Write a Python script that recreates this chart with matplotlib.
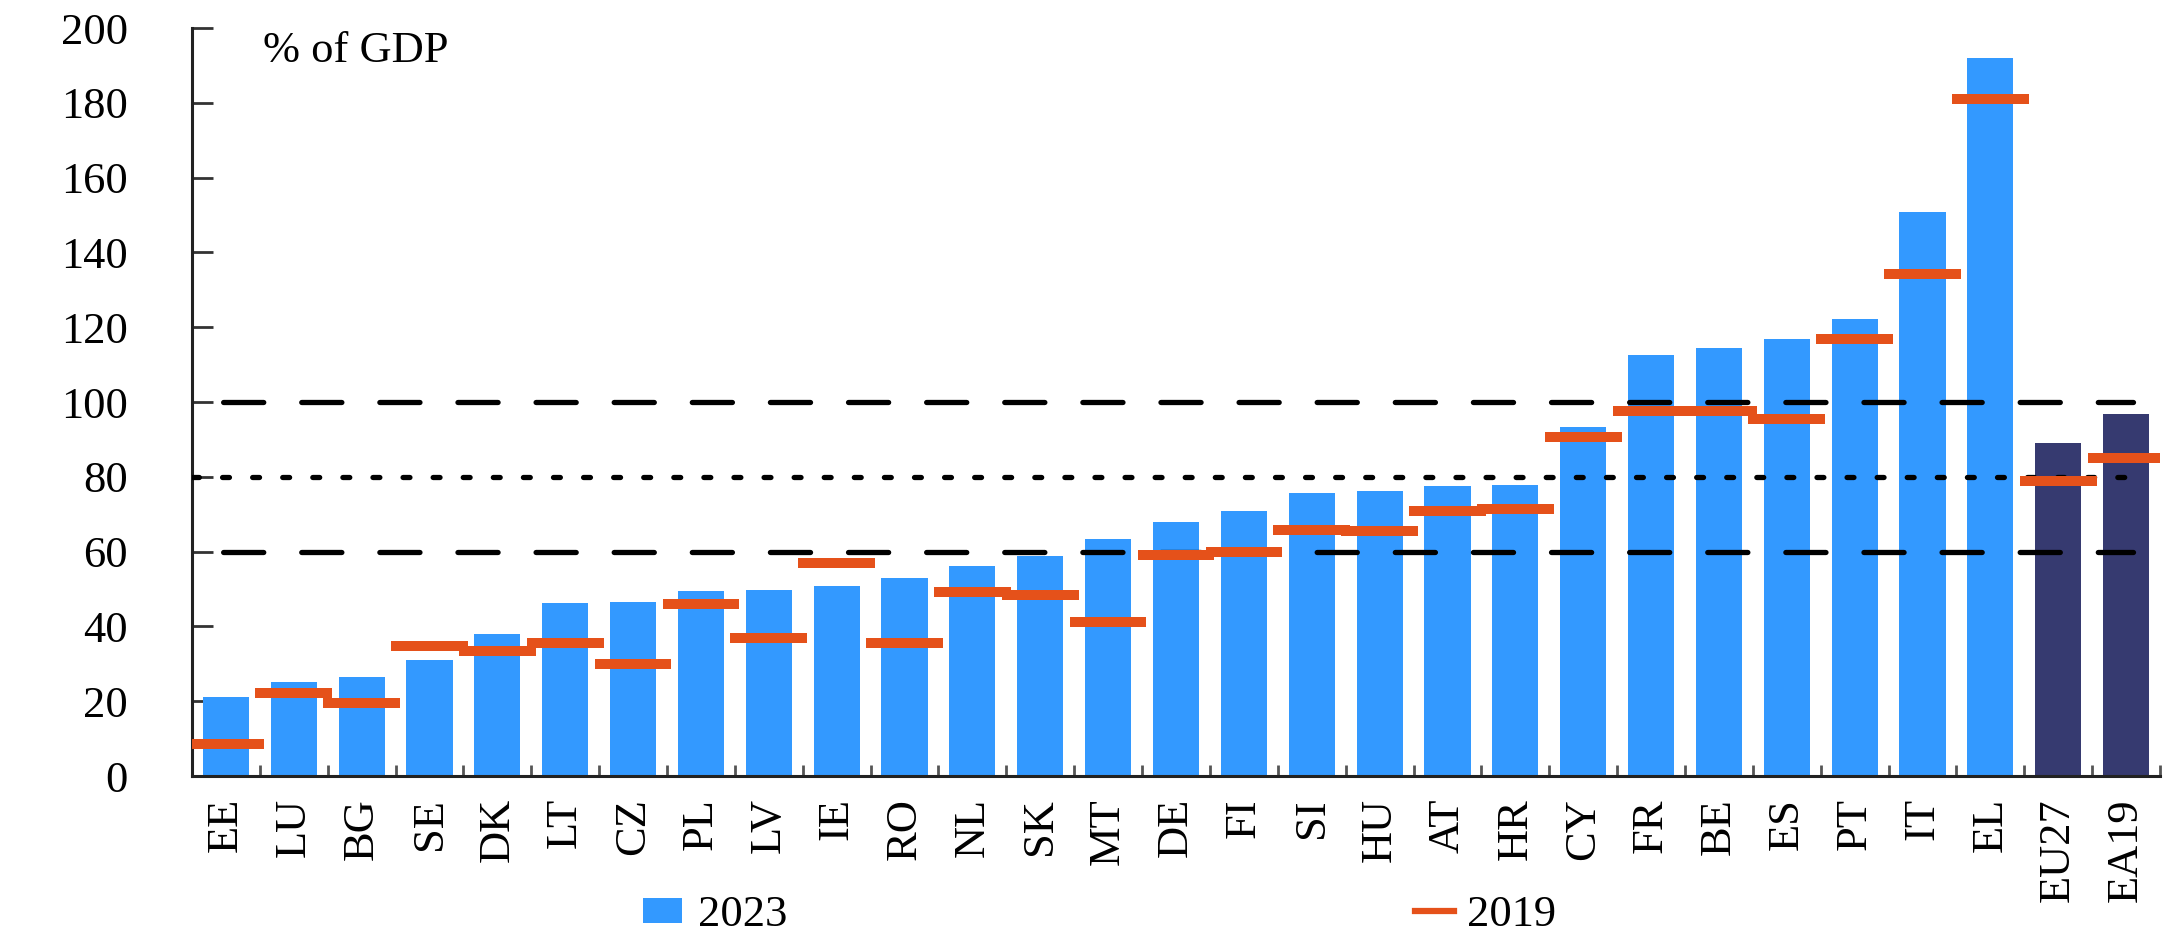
import matplotlib
matplotlib.use("Agg")
import matplotlib.pyplot as plt
import numpy as np
from matplotlib.patches import Patch
from matplotlib.lines import Line2D

# ---------------- data ----------------
countries = ["EE", "LU", "BG", "SE", "DK", "LT", "CZ", "PL", "LV", "IE", "RO", "NL",
             "SK", "MT", "DE", "FI", "SI", "HU", "AT", "HR", "CY", "FR", "BE", "ES",
             "PT", "IT", "EL", "EU27", "EA19"]
debt_2023 = [21.1, 25.1, 26.5, 30.9, 37.9, 46.3, 46.6, 49.5, 49.8, 50.9, 53.0, 56.1,
             58.9, 63.4, 68.0, 70.8, 75.7, 76.2, 77.5, 77.7, 93.2, 112.6, 114.5, 116.8,
             122.2, 150.7, 191.9, 89.1, 96.7]
debt_2019 = [8.5, 22.3, 19.6, 34.8, 33.4, 35.5, 30.0, 45.9, 36.9, 57.0, 35.5, 49.1,
             48.4, 41.1, 59.1, 59.8, 65.9, 65.4, 70.8, 71.5, 90.7, 97.5, 97.5, 95.4,
             116.8, 134.1, 181.0, 79.0, 84.9]
aggregates = ["EU27", "EA19"]
dashed_levels = [60, 100]
dotted_levels = [80]
y_ticks = [0, 20, 40, 60, 80, 100, 120, 140, 160, 180, 200]
series_labels = ["2023", "2019"]
unit_label = "% of GDP"

# ---------------- style ----------------
BLUE = "#3399FF"
NAVY = "#363A70"
ORANGE = "#E5511A"
FS = 32

plt.rcParams["font.family"] = ["Liberation Serif", "DejaVu Serif"]
plt.rcParams["font.size"] = FS

fig = plt.figure(figsize=(21.69, 9.38), dpi=100)
ax = fig.add_axes([192 / 2169, (938 - 776) / 938, (2160 - 192) / 2169, (776 - 28) / 938])

x = np.arange(len(countries))
colors = [NAVY if c in aggregates else BLUE for c in countries]
ax.bar(x, debt_2023, width=0.68, color=colors, zorder=2)

line_end = len(countries) - 0.9
for lvl in dashed_levels:
    ax.plot([-0.5, line_end], [lvl, lvl], color="black", lw=3.8,
            linestyle=(8.9, (7.6, 7.2)), dash_capstyle="round", zorder=3)
for lvl in dotted_levels:
    ax.plot([-0.5, line_end], [lvl, lvl], color="black", lw=3.8,
            linestyle=(0, (1.3, 4.4)), dash_capstyle="round", zorder=3)

ax.hlines(debt_2019, x - 0.565, x + 0.565, colors=ORANGE, linewidth=7.2, zorder=4)

ax.set_xlim(-0.5, len(countries) - 0.5)
ax.set_ylim(0, 200)
ax.set_yticks(y_ticks)
ax.set_xticks(x)
ax.set_xticklabels(countries, rotation=90)
ax.set_xticks(np.arange(-0.5, len(countries), 1), minor=True)
ax.tick_params(axis="x", which="major", length=0, pad=16)
ax.tick_params(axis="x", which="minor", direction="in", length=8, width=2, color="#555555")
ax.tick_params(axis="y", direction="in", length=15, width=2, pad=46, color="#333333")

for s in ["top", "right"]:
    ax.spines[s].set_visible(False)
for s in ["left", "bottom"]:
    ax.spines[s].set_linewidth(2.2)
    ax.spines[s].set_color("#222222")

ax.text(0.546, 190.9, unit_label, fontsize=FS, va="baseline", ha="left")

# legends
h1 = [Patch(facecolor=BLUE, edgecolor="none")]
leg1 = fig.legend(h1, [series_labels[0]], loc="lower left",
                  bbox_to_anchor=(643 / 2169, 0.003), frameon=False,
                  borderpad=0, borderaxespad=0, handlelength=0.88, handleheight=0.47,
                  handletextpad=0.36, fontsize=FS)
h2 = [Line2D([0], [0], color=ORANGE, lw=4.5)]
leg2 = fig.legend(h2, [series_labels[1]], loc="lower left",
                  bbox_to_anchor=(1415 / 2169, 0.003), frameon=False,
                  borderpad=0, borderaxespad=0, handlelength=0.88,
                  handletextpad=0.29, fontsize=FS)

fig.savefig("out.png", dpi=100)
